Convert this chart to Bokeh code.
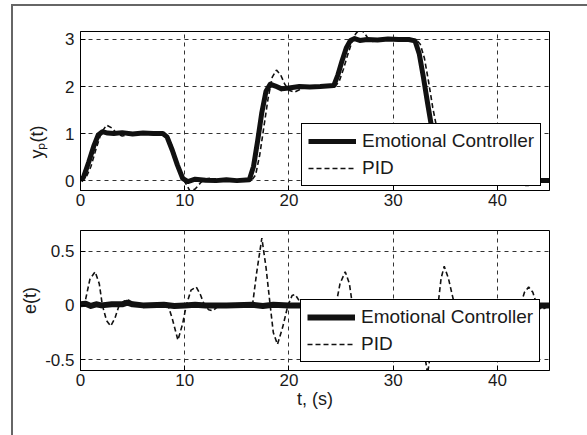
from bokeh.plotting import figure
from bokeh.models import Range1d, Legend, LegendItem, FixedTicker, Title
from bokeh.layouts import column
from bokeh.embed import file_html
from bokeh.resources import INLINE

FONT = "Liberation Sans"

# ---------------- data ----------------
x_ticks = [0, 10, 20, 30, 40]
yp_ticks = [0, 1, 2, 3]
e_ticks = [-0.5, 0, 0.5]
e_tick_labels = ["-0.5", "0", "0.5"]

# Emotional controller output y_p(t)
t_ec = [0, 0.3, 0.8, 1.3, 1.7, 2.1, 2.6, 3.2, 4, 5, 6, 7, 7.9, 8.3, 8.8, 9.3, 9.8, 10.3, 11, 12,
        13, 14, 15, 16.2, 16.6, 17.0, 17.4, 17.8, 18.2, 18.7, 19.3, 20, 21, 22, 23, 24.3, 24.7, 25.1, 25.5, 25.9,
        26.3, 26.8, 27.5, 28.5, 29.5, 30.5, 31.5, 32.1, 32.5, 32.9, 33.3, 33.7, 34.1, 34.5, 35, 36, 37, 38, 39, 40.2,
        40.6, 41.0, 41.4, 41.8, 42.3, 43, 44, 45]
y_ec = [0, 0.08, 0.4, 0.75, 0.97, 1.04, 1.01, 1.0, 1.02, 0.99, 1.01, 1.0, 1.0, 0.93, 0.65, 0.33, 0.05, -0.02, 0.03, 0.01,
        0.0, 0.02, 0.0, 0.02, 0.3, 0.85, 1.45, 1.9, 2.05, 2.01, 1.95, 1.97, 2.0, 1.99, 2.0, 2.02, 2.25, 2.55, 2.82, 2.98,
        3.02, 2.98, 3.0, 2.99, 3.01, 3.0, 3.0, 2.97, 2.7, 2.2, 1.65, 1.12, 0.98, 0.99, 1.01, 1.0, 1.0, 1.0, 1.0, 0.98,
        0.75, 0.45, 0.15, 0.0, -0.02, 0.01, 0.0, 0.0]

# PID output y_p(t)
t_pid = [0, 0.5, 1.0, 1.5, 2.0, 2.5, 3.0, 3.5, 4.0, 4.5, 5.0, 6, 7, 8.0, 8.5, 9.0, 9.5, 10.0, 10.5, 11.0,
         11.5, 12.0, 12.5, 13.0, 14, 15, 16.4, 16.8, 17.2, 17.6, 18.0, 18.4, 18.8, 19.2, 19.6, 20.0, 20.5, 21.0, 21.5, 22,
         23, 24.4, 24.8, 25.2, 25.6, 26.0, 26.4, 26.8, 27.2, 27.6, 28.0, 28.5, 29, 30, 31, 32.2, 32.6, 33.0, 33.4, 33.8,
         34.2, 34.6, 35.0, 35.4, 35.8, 36.2, 36.6, 37.0, 37.5, 38, 39, 40.2, 40.6, 41.0, 41.4, 41.8, 42.2, 42.6, 43.0, 43.4,
         43.8, 44.2, 45]
y_pid = [0, 0.05, 0.3, 0.68, 1.02, 1.18, 1.12, 1.0, 0.95, 0.97, 1.0, 1.0, 1.0, 1.0, 0.9, 0.6, 0.25, -0.02, -0.22, -0.18,
         -0.05, 0.04, 0.05, 0.02, 0.0, 0.0, 0.0, 0.12, 0.55, 1.15, 1.75, 2.2, 2.35, 2.25, 2.05, 1.92, 1.88, 1.93, 1.98, 2.0,
         2.0, 2.0, 2.1, 2.35, 2.65, 2.92, 3.12, 3.22, 3.15, 3.02, 2.96, 2.97, 3.0, 3.0, 3.0, 3.0, 2.9, 2.6, 2.1, 1.55,
         1.1, 0.78, 0.66, 0.72, 0.9, 1.07, 1.13, 1.1, 1.03, 0.98, 1.0, 1.0, 0.92, 0.7, 0.42, 0.15, -0.03, -0.1, -0.1, -0.05,
         0.0, 0.02, 0.0]

# Emotional controller error e(t)
t_eec = [0, 0.5, 1, 1.5, 2, 3, 4, 4.5, 5, 6, 8, 9, 10, 11, 12, 14, 16.5, 17.5, 18.5, 20,
         22, 24, 25.5, 27, 28.3, 28.7, 29.1, 31, 33, 35, 37, 39, 41, 43, 45]
e_ec = [0.01, 0.015, -0.005, 0.01, 0.0, 0.01, 0.01, 0.025, 0.01, 0.0, 0.005, -0.005, 0.0, 0.005, 0.0, 0.0, 0.005, -0.005, 0.005, 0.0,
        0.0, 0.005, -0.005, 0.0, 0.0, 0.02, 0.0, 0.0, -0.005, 0.005, 0.0, 0.0, 0.005, 0.0, 0.0]

# PID error e(t)
t_epid = [0, 0.5, 0.9, 1.4, 1.8, 2.1, 2.5, 2.9, 3.3, 3.7, 4.2, 4.6, 5.2, 8.4, 8.8, 9.35, 9.8, 10.15, 10.6, 11.1,
          11.5, 11.9, 12.3, 12.7, 13.3, 16.5, 16.9, 17.4, 17.8, 18.2, 18.5, 18.9, 19.4, 19.9, 20.3, 20.6, 21.0, 21.4, 22.0, 22.6,
          24.5, 24.9, 25.4, 25.8, 26.1, 26.6, 27.1, 27.6, 28.2, 32.3, 32.7, 33.3, 33.8, 34.3, 34.6, 34.9, 35.3, 35.9, 36.6, 37.3,
          40.4, 40.8, 41.3, 41.8, 42.2, 42.6, 43.0, 43.4, 43.8, 44.3, 45]
e_pid = [0, 0.06, 0.24, 0.31, 0.2, 0.0, -0.14, -0.19, -0.12, 0.0, 0.04, 0.05, 0.0, 0.0, -0.12, -0.32, -0.17, 0.0, 0.14, 0.17,
         0.1, 0.0, -0.04, -0.05, 0.0, 0.0, 0.3, 0.62, 0.35, 0.0, -0.25, -0.36, -0.2, 0.0, 0.09, 0.1, 0.04, -0.02, -0.03, 0.0,
         0.0, 0.2, 0.31, 0.2, 0.0, -0.15, -0.2, -0.1, 0.0, 0.0, -0.25, -0.63, -0.3, 0.0, 0.25, 0.36, 0.25, 0.0, -0.13, 0.0,
         0.0, -0.15, -0.3, -0.15, 0.0, 0.12, 0.17, 0.12, 0.0, -0.04, 0.0]

labels = ["Emotional Controller", "PID"]
yp_label = "y\u209a(t)"
e_label = "e(t)"
t_label = "t, (s)"


def style(p, xt, yt, ylabels=None):
    p.x_range = Range1d(0, 45)
    for ax in (p.xaxis[0], p.yaxis[0]):
        ax.major_tick_in = 5
        ax.major_tick_out = 0
        ax.minor_tick_line_color = None
        ax.axis_line_color = "black"
        ax.major_tick_line_color = "black"
        ax.major_label_text_font = FONT
        ax.major_label_text_font_size = "17px"
        ax.major_label_text_color = "#1a1a1a"
        ax.axis_label_text_font = FONT
        ax.axis_label_text_font_size = "18px"
        ax.axis_label_text_font_style = "normal"
        ax.axis_label_text_color = "#1a1a1a"
    p.xaxis.ticker = FixedTicker(ticks=xt)
    p.yaxis.ticker = FixedTicker(ticks=yt)
    if ylabels:
        p.yaxis.major_label_overrides = {v: s for v, s in zip(yt, ylabels)}
    p.xaxis.major_label_standoff = 3
    p.yaxis.major_label_standoff = 6
    p.grid.grid_line_color = "#333333"
    p.grid.grid_line_dash = "4 4"
    p.grid.grid_line_width = 1
    p.outline_line_color = "black"
    p.outline_line_width = 1
    p.outline_line_alpha = 1
    p.background_fill_color = "white"
    p.border_fill_alpha = 0


def add_legend(p, r1, r2, loc):
    leg = Legend(items=[LegendItem(label=labels[0], renderers=[r1]),
                        LegendItem(label=labels[1], renderers=[r2])],
                 location=loc, orientation="vertical")
    leg.border_line_color = "black"
    leg.border_line_width = 1
    leg.border_line_alpha = 1
    leg.background_fill_color = "white"
    leg.background_fill_alpha = 1
    leg.label_text_font = FONT
    leg.label_text_font_size = "19px"
    leg.label_text_color = "#1a1a1a"
    leg.glyph_width = 48
    leg.glyph_height = 20
    leg.label_height = 20
    leg.label_standoff = 6
    leg.spacing = 5
    leg.padding = 6
    leg.margin = 0
    p.add_layout(leg)


top_bg = ("linear-gradient(#666666, #666666) 11px 4px / 2px 100% no-repeat, "
          "linear-gradient(#666666, #666666) 11px 4px / 100% 2px no-repeat")
left_bg = "linear-gradient(#666666, #666666) 11px 0px / 2px 100% no-repeat"

# ---------------- top plot ----------------
p1 = figure(width=587, height=214, output_backend="svg", toolbar_location=None,
            min_border_left=80, min_border_right=38, min_border_top=31, min_border_bottom=24,
            y_range=Range1d(-0.21, 3.17), styles={"background": top_bg})
style(p1, x_ticks, yp_ticks)
r1 = p1.line(t_ec, y_ec, line_color="#111111", line_width=5, line_join="round")
r2 = p1.line(t_pid, y_pid, line_color="#111111", line_width=1.6, line_dash="5 3")
add_legend(p1, r1, r2, (221, 4))
p1.add_layout(Title(text=yp_label, align="left", offset=32, standoff=32, text_font=FONT,
                    text_font_size="18px", text_font_style="normal", text_color="#1a1a1a"), "left")

# ---------------- bottom plot ----------------
p2 = figure(width=587, height=221, output_backend="svg", toolbar_location=None,
            min_border_left=80, min_border_right=38, min_border_top=16, min_border_bottom=65,
            y_range=Range1d(-0.60, 0.69), styles={"background": left_bg})
style(p2, x_ticks, e_ticks, e_tick_labels)
r3 = p2.line(t_eec, e_ec, line_color="#111111", line_width=6, line_join="round")
r4 = p2.line(t_epid, e_pid, line_color="#111111", line_width=1.6, line_dash="5 3")
add_legend(p2, r3, r4, (220, 8))
p2.yaxis.axis_label = e_label
p2.yaxis.axis_label_standoff = 2
p2.xaxis.axis_label = t_label
p2.xaxis.axis_label_standoff = 0

layout = column(p1, p2)
open("out.html", "w").write(file_html(layout, INLINE))
